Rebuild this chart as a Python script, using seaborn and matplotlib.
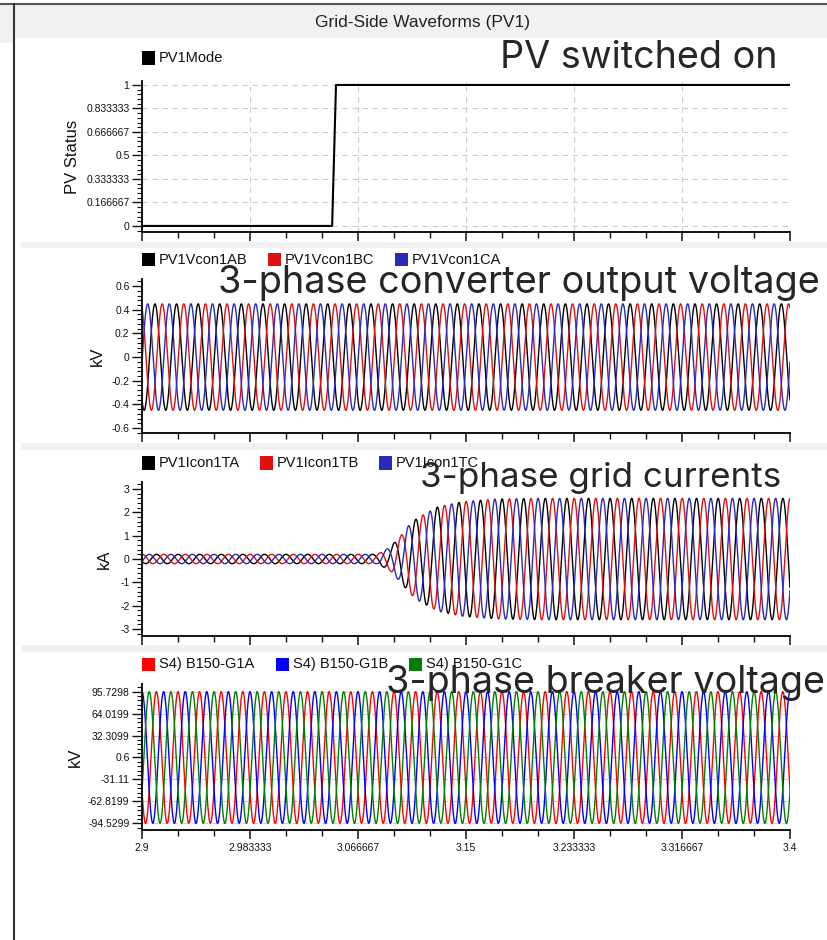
import numpy as np
import matplotlib
matplotlib.use('Agg')
import matplotlib.pyplot as plt
from matplotlib.patches import Rectangle
from matplotlib.lines import Line2D
from matplotlib.ticker import AutoMinorLocator
import seaborn as sns

# time window and grid frequency
t_start, t_end = 2.9, 3.4
freq = 60.0
x_ticks = [2.9, 2.983333, 3.066667, 3.15, 3.233333, 3.316667, 3.4]
x_labels = ['2.9', '2.983333', '3.066667', '3.15', '3.233333', '3.316667', '3.4']

# PV mode step
mode_t = [2.9, 3.0467, 3.0497, 3.4]
mode_val = [0, 0, 1, 1]

# converter output voltage (kV), peak times of each phase
vcon_labels = ['PV1Vcon1AB', 'PV1Vcon1BC', 'PV1Vcon1CA']
vcon_colors = ['#000000', '#e01010', '#2a2ab8']
vcon_peak_t = [2.9100, 2.9156, 2.9044]
vcon_amp = 0.45

# grid currents (kA), envelope
icon_labels = ['PV1Icon1TA', 'PV1Icon1TB', 'PV1Icon1TC']
icon_colors = ['#000000', '#e01010', '#2a2ab8']
icon_peak_t = [2.9112, 2.9168, 2.9056]
env_t = [2.9, 3.0813, 3.0914, 3.0968, 3.1014, 3.1052, 3.1122, 3.1168, 3.1284, 3.1477, 3.1739, 3.207, 3.4]
env_amp = [0.2, 0.2, 0.5, 0.83, 1.1, 1.4, 1.75, 1.89, 2.24, 2.46, 2.57, 2.6, 2.6]

# breaker voltage (kV)
brk_labels = ['S4) B150-G1A', 'S4) B150-G1B', 'S4) B150-G1C']
brk_colors = ['#ff0000', '#0000ff', '#008000']
brk_peak_t = [2.9111, 2.9000, 2.9056]
brk_amp = 95.13
brk_offset = 0.6
brk_ticks = [-94.5299, -62.8199, -31.11, 0.6, 32.3099, 64.0199, 95.7298]
brk_tick_labels = ['-94.5299', '-62.8199', '-31.11', '0.6', '32.3099', '64.0199', '95.7298']

W, H = 827, 940
sns.set_theme(style='white')
plt.rcParams['font.family'] = ['Liberation Sans', 'DejaVu Sans']

t = np.arange(t_start, t_end + 1e-9, 1e-4)
w = 2 * np.pi * freq


def px_rect(l, top, r, b):
    return [l / W, 1 - b / H, (r - l) / W, (b - top) / H]


def style(ax, yticks, ylabels, ylim, ylabel, label_x, show_x=False):
    ax.set_xlim(t_start, t_end)
    ax.set_ylim(ylim)
    ax.set_xticks(x_ticks)
    ax.set_xticklabels(x_labels if show_x else [])
    ax.xaxis.set_minor_locator(AutoMinorLocator(3))
    ax.set_yticks(yticks)
    ax.set_yticklabels(ylabels)
    ax.yaxis.set_minor_locator(AutoMinorLocator(5))
    for s in ['top', 'right']:
        ax.spines[s].set_visible(False)
    for s in ['left', 'bottom']:
        ax.spines[s].set_linewidth(1.4)
        ax.spines[s].set_color('#111111')
    ax.tick_params(axis='x', which='major', bottom=True, length=6.5, width=1.1, pad=3,
                   labelsize=7.5, colors='#111111', direction='out')
    ax.tick_params(axis='x', which='minor', bottom=True, length=4, width=1.0, colors='#111111')
    ax.tick_params(axis='y', which='major', left=True, length=7, width=1.0, pad=2,
                   labelsize=7.5, colors='#111111')
    ax.tick_params(axis='y', which='minor', left=True, length=3.5, width=0.8, colors='#111111')
    ax.set_xlabel('')
    ax.set_ylabel(ylabel, fontsize=12, color='#111111')
    ax.yaxis.set_label_coords(label_x, 0.5)
    ax.set_axisbelow(True)


def key(y, xs, labels, colors):
    for x, lab, c in zip(xs, labels, colors):
        fig.patches.append(Rectangle((x / W, 1 - (y + 6.5) / H), 13 / W, 13 / H,
                                     transform=fig.transFigure, facecolor=c, edgecolor='none'))
        fig.text((x + 17) / W, 1 - y / H, lab, ha='left', va='center', fontsize=10.5, color='#111111')


fig = plt.figure(figsize=(W / 100, H / 100), dpi=100)
fig.patch.set_facecolor('white')

# frame, header and separator bands
for l, top, r, b in [(14, 5, 827, 38), (0, 5, 13, 43), (21, 242, 827, 248),
                     (21, 443, 827, 450), (21, 645, 827, 652)]:
    fig.patches.append(Rectangle((l / W, 1 - b / H), (r - l) / W, (b - top) / H,
                                 transform=fig.transFigure, facecolor='#f1f1f1', edgecolor='none', zorder=0))
fig.add_artist(Line2D([0, 1], [1 - 4 / H, 1 - 4 / H], color='#555555', lw=1.5))
fig.add_artist(Line2D([14 / W, 14 / W], [0, 1 - 4 / H], color='#333333', lw=1.5))
fig.text(423 / W, 1 - 22 / H, 'Grid-Side Waveforms (PV1)', ha='center', va='center', fontsize=12.5, color='#222222')

# panel 1: PV status
ax1 = fig.add_axes(px_rect(142, 81, 790, 232))
sns.lineplot(x=mode_t, y=mode_val, color='black', linewidth=1.5, ax=ax1, estimator=None, legend=False)
style(ax1, [0, 1 / 6, 2 / 6, 0.5, 4 / 6, 5 / 6, 1],
      ['0', '0.166667', '0.333333', '0.5', '0.666667', '0.833333', '1'],
      (-0.043, 1.028), 'PV Status', -0.096)
ax1.grid(True, which='major', axis='both', color='#cdcdcd', linestyle=(0, (5, 4)), linewidth=0.8)
key(58, [142], ['PV1Mode'], ['#000000'])

# panel 2: converter voltage
ax2 = fig.add_axes(px_rect(142, 279, 790, 433))
for pk, c in zip(vcon_peak_t, vcon_colors):
    sns.lineplot(x=t, y=vcon_amp * np.cos(w * (t - pk)), color=c, linewidth=1.0, ax=ax2,
                 estimator=None, legend=False)
style(ax2, [-0.6, -0.4, -0.2, 0, 0.2, 0.4, 0.6],
      ['-0.6', '-0.4', '-0.2', '0', '0.2', '0.4', '0.6'], (-0.642, 0.66), 'kV', -0.057)
key(260, [142, 268, 395], vcon_labels, vcon_colors)

# panel 3: grid currents
ax3 = fig.add_axes(px_rect(142, 482, 790, 636))
env = np.interp(t, env_t, env_amp)
for pk, c in zip(icon_peak_t, icon_colors):
    sns.lineplot(x=t, y=env * np.cos(w * (t - pk)), color=c, linewidth=1.0, ax=ax3,
                 estimator=None, legend=False)
style(ax3, [-3, -2, -1, 0, 1, 2, 3], ['-3', '-2', '-1', '0', '1', '2', '3'],
      (-3.3, 3.3), 'kA', -0.046)
key(463, [142, 260, 379], icon_labels, icon_colors)

# panel 4: breaker voltage
ax4 = fig.add_axes(px_rect(142, 684, 790, 830))
for pk, c in zip(brk_peak_t, brk_colors):
    sns.lineplot(x=t, y=brk_offset + brk_amp * np.cos(w * (t - pk)), color=c, linewidth=1.0, ax=ax4,
                 estimator=None, legend=False)
style(ax4, brk_ticks, brk_tick_labels, (-104.2, 106.8), 'kV', -0.092, show_x=True)
ax4.grid(True, which='major', axis='y', color='#cdcdcd', linestyle=(0, (5, 4)), linewidth=0.8)
key(664, [142, 276, 409], brk_labels, brk_colors)

# annotations
notes = [('PV switched on', 500, 68, 27.2), ('3-phase converter output voltage', 218, 293, 27.3),
         ('3-phase grid currents', 420, 487, 25.2), ('3-phase breaker voltage', 386, 693, 27.2)]
for txt, x, y, fs in notes:
    fig.text(x / W, 1 - y / H, txt, ha='left', va='baseline', fontsize=fs,
             family=['Inter', 'DejaVu Sans'], color='#262626', zorder=10)

fig.savefig('out.png', dpi=100)
